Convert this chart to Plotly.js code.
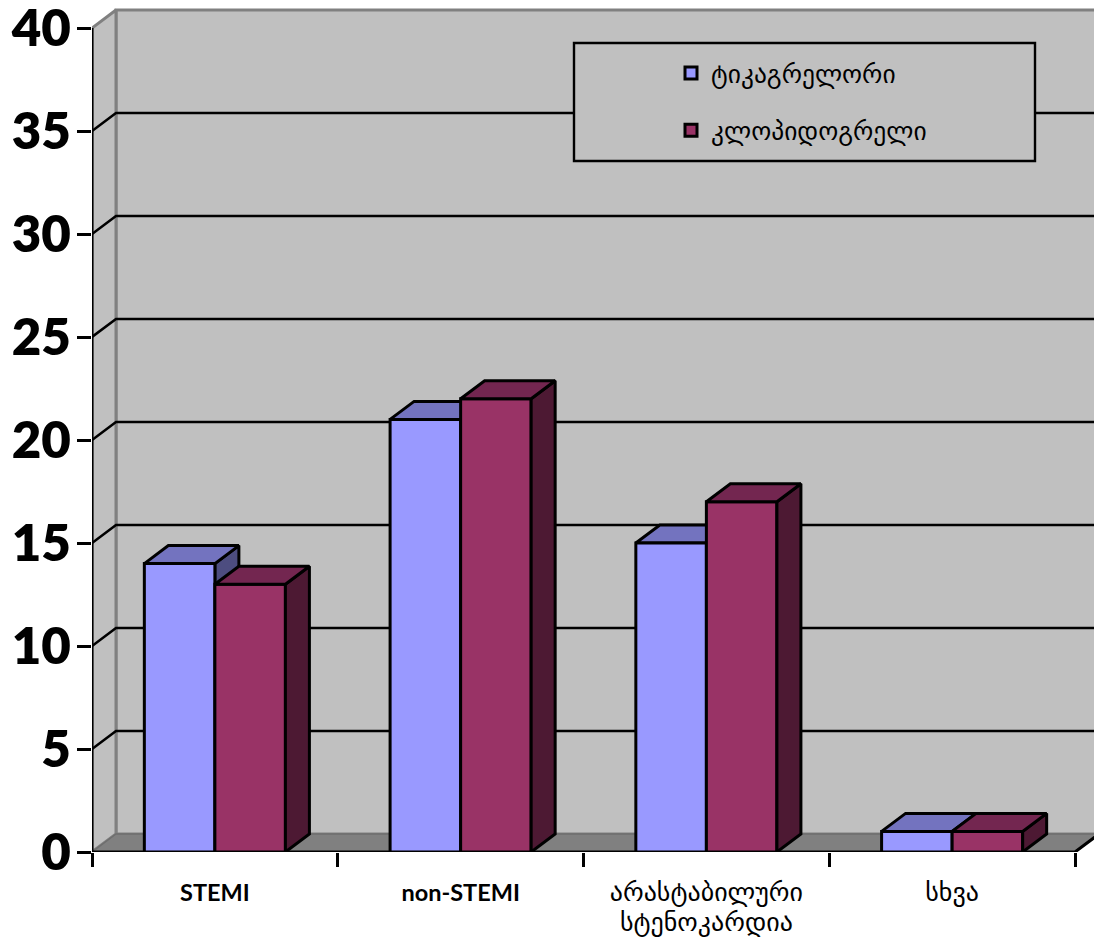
<!DOCTYPE html>
<html><head><meta charset="utf-8">
<script src="https://cdn.plot.ly/plotly-3.0.1.min.js"></script>
<style>html,body{margin:0;padding:0;background:#fff}</style></head>
<body><div id="chart" style="width:1094px;height:945px"></div>
<script>
const categories = ['<b>STEMI</b>','<b>non-STEMI</b>','<span style="font-size:26px">არასტაბილური<br>სტენოკარდია</span>','<span style="font-size:26px">სხვა</span>'];
const seriesNames = ['ტიკაგრელორი','კლოპიდოგრელი'];
const ticagrelor = [14,21,15,1];
const clopidogrel = [13,22,17,1];
const yTicks = [0,5,10,15,20,25,30,35,40];
const catCenters = [0.5,1.5,2.5,3.5];
const catEdges = [0,1,2,3,4];

const W = 1094, H = 945, L = 92, B = 93;
const plotW = W - L, plotH = H - B;
const xMax = plotW / 245.75, yMax = plotH / 20.6;
const DX = 24 / 245.75, DY = 18 / 20.6, BW = 0.287;
const LW = 3;

function poly(points, fill, line, width, xa, ya, clip){
  return {type:'scatter',mode:'lines',x:points.map(p=>p?p[0]:null),y:points.map(p=>p?p[1]:null),
    fill:'toself',fillcolor:fill,line:{color:line,width:width,shape:'linear'},connectgaps:false,
    hoverinfo:'skip',showlegend:false,xaxis:xa||'x',yaxis:ya||'y',cliponaxis:!!clip};
}
function line(points, color, width, clip){
  return {type:'scatter',mode:'lines',x:points.map(p=>p?p[0]:null),y:points.map(p=>p?p[1]:null),
    line:{color:color,width:width},hoverinfo:'skip',showlegend:false,cliponaxis:!!clip};
}
function depth(values, offset, topColor, sideColor, xa, ya){
  const tops=[], sides=[];
  values.forEach((v,i)=>{
    const x0=catCenters[i]+offset, x1=x0+BW;
    tops.push([x0,v],[x0+DX,v+DY],[x1+DX,v+DY],[x1,v],[x0,v],null);
    sides.push([x1,0],[x1+DX,DY],[x1+DX,v+DY],[x1,v],[x1,0],null);
  });
  return [poly(sides,sideColor,'#000',LW,xa,ya,false),poly(tops,topColor,'#000',LW,xa,ya,false)];
}

const traces = [];
traces.push(poly([[DX,DY],[xMax+1,DY],[xMax+1,40+DY],[DX,40+DY],[DX,DY]],'#C0C0C0','#808080',3,'x','y',true));
traces.push(poly([[0,0],[DX,DY],[DX,40+DY],[0,40],[0,0]],'#C0C0C0','#808080',3,'x','y',true));
traces.push(poly([[0,0],[DX,DY],[4+DX,DY],[4,0],[0,0]],'#808080','#6e6e6e',1.5,'x','y',true));
const grid=[];
yTicks.filter(t=>t>0&&t<40).forEach(t=>{grid.push([0,t],[DX,t+DY],[xMax+1,t+DY],null);});
traces.push(line(grid,'#000',2.6,true));
traces.push(line([[0,0],[0,40]],'#000',3,false));
traces.push(line([[0,0],[4,0],[4+DX,DY]],'#000',3,false));
traces.push(...depth(ticagrelor,-BW,'#7373BF','#4D4D80','x','y'));
traces.push({type:'bar',name:seriesNames[0],x:catCenters,y:ticagrelor,xaxis:'x2',yaxis:'y2',legendgroup:'a',
  marker:{color:'#9999FF',line:{color:'#000',width:LW}},hoverinfo:'skip',cliponaxis:false});
traces.push({type:'bar',name:seriesNames[1],x:catCenters,y:clopidogrel,xaxis:'x2',yaxis:'y2',legendgroup:'b',
  marker:{color:'#993366',line:{color:'#000',width:LW}},hoverinfo:'skip',cliponaxis:false});
traces.push(...depth(clopidogrel,0,'#732650','#4D1933','x2','y2'));

const layout = {
  width:W,height:H,margin:{l:L,r:0,t:0,b:B,pad:0},
  paper_bgcolor:'#fff',plot_bgcolor:'#fff',
  barmode:'group',bargap:0.426,bargroupgap:0,
  font:{family:'Lato, "DejaVu Sans", sans-serif',color:'#000'},
  showlegend:true,
  legend:{x:(671-L)/plotW,xanchor:'left',y:1-(50/plotH),yanchor:'top',bgcolor:'rgba(0,0,0,0)',borderwidth:0,
    traceorder:'grouped',tracegroupgap:21,font:{size:25.5,family:'"DejaVu Sans", sans-serif',color:'#000'},itemwidth:30},
  xaxis:{range:[0,xMax],tickmode:'array',tickvals:catCenters,ticktext:categories,ticks:'',ticklen:0,
    ticklabelstandoff:24,tickfont:{size:23.5,color:'#000'},showgrid:false,zeroline:false,showline:false,
    minor:{tickmode:'array',tickvals:catEdges,ticks:'outside',ticklen:14,tickwidth:3,tickcolor:'#000',showgrid:false}},
  yaxis:{range:[0,yMax],tickmode:'array',tickvals:yTicks,ticktext:yTicks.map(String),ticks:'outside',ticklen:14,tickwidth:3,tickcolor:'#000',
    ticklabelstandoff:-4,ticklabeloverflow:'allow',tickfont:{size:51,color:'#000',weight:800},showgrid:false,zeroline:false,showline:false},
  xaxis2:{overlaying:'x',range:[0,xMax],visible:false,anchor:'y2'},
  yaxis2:{overlaying:'y',range:[0,yMax],visible:false,anchor:'x2'},
  shapes:[{type:'rect',xref:'paper',yref:'paper',x0:(574-L)/plotW,x1:(1035-L)/plotW,
    y0:1-(161/plotH),y1:1-(43/plotH),fillcolor:'#C0C0C0',line:{color:'#000',width:2.4},layer:'above'}]
};
Plotly.newPlot('chart',traces,layout,{displayModeBar:false,staticPlot:true});
</script></body></html>
